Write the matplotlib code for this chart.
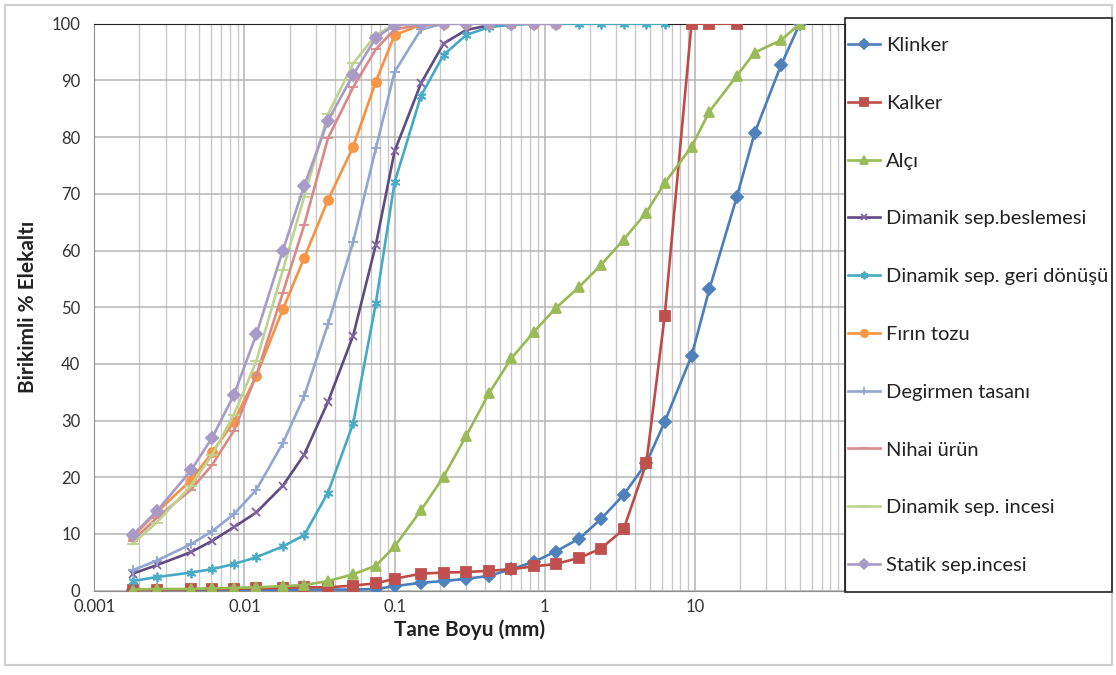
import matplotlib
matplotlib.use("Agg")
import matplotlib.pyplot as plt
from matplotlib.patches import Rectangle
from matplotlib.ticker import FixedLocator, LogLocator, NullFormatter

plt.rcParams['font.family'] = ['Lato', 'DejaVu Sans']

# elek / tane boyutlari (mm)
boyut = [0.0018, 0.0026, 0.0044, 0.0061, 0.0085, 0.012, 0.018, 0.025, 0.036, 0.053,
         0.075, 0.1, 0.15, 0.212, 0.3, 0.425, 0.6, 0.85, 1.18, 1.7,
         2.36, 3.35, 4.75, 6.3, 9.5, 12.5, 19, 25, 37.5, 50]

klinker = [0.1, 0.1, 0.1, 0.1, 0.1, 0.15, 0.15, 0.2, 0.2, 0.2,
           0.3, 0.8, 1.4, 1.7, 2.1, 2.6, 3.8, 5.1, 6.9, 9.2,
           12.6, 16.9, 22.5, 29.8, 41.4, 53.2, 69.4, 80.7, 92.7, 100]
kalker = [0.2, 0.2, 0.25, 0.3, 0.35, 0.4, 0.5, 0.6, 0.6, 0.9,
          1.3, 2.1, 3.0, 3.2, 3.3, 3.5, 3.8, 4.3, 4.7, 5.8,
          7.4, 10.8, 22.5, 48.5, 100, 100, 100]
alci = [0.2, 0.3, 0.3, 0.4, 0.5, 0.6, 0.8, 1.0, 1.7, 2.9,
        4.4, 7.8, 14.2, 20.1, 27.3, 34.8, 41.0, 45.7, 49.8, 53.6,
        57.4, 61.9, 66.7, 71.9, 78.3, 84.5, 90.8, 94.9, 97.1, 100]
dim_besleme = [3.0, 4.5, 6.8, 8.8, 11.2, 13.8, 18.5, 24.0, 33.3, 45.0,
               61.0, 77.5, 89.5, 96.5, 98.9, 99.7, 100, 100, 100]
din_geri = [1.7, 2.4, 3.2, 3.8, 4.7, 5.9, 7.8, 9.8, 17.3, 29.5,
            50.7, 72.0, 87.3, 94.5, 98.0, 99.4, 99.8, 100, 100, 100,
            100, 100, 100, 100]
firin = [9.5, 13.8, 19.5, 24.4, 29.8, 37.9, 49.6, 58.7, 68.9, 78.3,
         89.8, 98.0, 99.8, 100, 100, 100, 100, 100, 100]
degirmen = [3.6, 5.3, 8.2, 10.5, 13.5, 17.8, 26.0, 34.3, 47.0, 61.5,
            78.0, 91.5, 99.0, 100, 100, 100, 100, 100, 100]
nihai = [8.8, 12.8, 17.8, 22.2, 28.2, 38.0, 52.5, 64.5, 79.8, 88.8,
         95.5, 99.0, 99.8, 100, 100, 100, 100, 100, 100]
din_ince = [8.3, 12.0, 18.5, 24.0, 31.0, 40.5, 56.5, 69.5, 84.0, 93.0,
            98.0, 99.8, 100, 100, 100, 100, 100, 100, 100]
statik = [9.8, 14.0, 21.2, 27.0, 34.5, 45.2, 60.0, 71.4, 82.9, 91.0,
          97.5, 99.8, 100, 100, 100, 100, 100, 100, 100]

seriler = [
    ("Klinker", klinker, '#4A7EBB', 'D', 6, '#4F81BD'),
    ("Kalker", kalker, '#BE4B48', 's', 6.5, '#C0504D'),
    ("Alçı", alci, '#98B954', '^', 6.5, '#9BBB59'),
    ("Dimanik sep.beslemesi", dim_besleme, '#5F4B82', 'x', 6, '#8064A2'),
    ("Dinamik sep. geri dönüşü", din_geri, '#46AAC5', (6, 2, 0), 7, '#4BACC6'),
    ("Fırın tozu", firin, '#F69240', 'o', 6.5, '#F79646'),
    ("Degirmen tasanı", degirmen, '#91A6D0', '+', 7, '#91A6D0'),
    ("Nihai ürün", nihai, '#D98A88', '_', 7, '#D98A88'),
    ("Dinamik sep. incesi", din_ince, '#BCD48E', '_', 9, '#BCD48E'),
    ("Statik sep.incesi", statik, '#A99BC8', 'D', 6, '#A99BC8'),
]

fig = plt.figure(figsize=(11.16, 6.75), dpi=100)
ax = fig.add_axes([94.3 / 1116, 1 - 590.7 / 675, (845 - 94.3) / 1116, 567 / 675])

for ad, deger, renk, isaret, boy, dolgu in seriler:
    ax.plot(boyut[:len(deger)], deger, color=renk, lw=1.9, marker=isaret,
            ms=boy, mfc=dolgu, mec=dolgu, mew=1.3, label=ad, zorder=3)

ax.set_xscale('log')
ax.set_xlim(0.001, 100)
ax.set_ylim(0, 100)
ax.set_yticks(range(0, 101, 10))
ax.xaxis.set_major_locator(FixedLocator([0.001, 0.01, 0.1, 1, 10, 100]))
ax.set_xticklabels(['0.001', '0.01', '0.1', '1', '10', ''])
ax.xaxis.set_minor_locator(LogLocator(base=10, subs=range(2, 10)))
ax.xaxis.set_minor_formatter(NullFormatter())

ax.grid(True, which='major', axis='both', color='#B4B4B4', lw=1.1)
ax.grid(True, which='minor', axis='x', color='#C8C8C8', lw=1.0)
ax.set_axisbelow(True)
ax.tick_params(axis='both', which='both', length=0, labelsize=12, colors='#333333')
ax.tick_params(axis='y', pad=10)
ax.tick_params(axis='x', pad=6)

for s in ['left', 'bottom']:
    ax.spines[s].set_color('#8C8C8C')
for s in ['top', 'right']:
    ax.spines[s].set_color('#222222')

ax.set_xlabel('Tane Boyu (mm)', fontsize=15, fontweight='bold', color='#222222', labelpad=3)
ax.set_ylabel('Birikimli % Elekaltı', fontsize=15, fontweight='bold', color='#222222', labelpad=10)

# sag taraftaki aciklama kutusu
fig.patches.append(Rectangle((845 / 1116, 1 - 592 / 675), 267 / 1116, 574 / 675,
                             transform=fig.transFigure, fill=False,
                             edgecolor='#222222', lw=1.2, zorder=5))
leg = fig.legend(loc='upper left', bbox_to_anchor=(848 / 1116, 1 - 37 / 675),
                 fontsize=14.5, frameon=False, labelspacing=2.02, handlelength=1.6,
                 handletextpad=0.3, borderpad=0, borderaxespad=0, markerscale=0.8)
for t in leg.get_texts():
    t.set_color('#222222')

# grafik alaninin dis cercevesi
fig.patches.append(Rectangle((5 / 1116, 10 / 675), 1107 / 1116, 660 / 675,
                             transform=fig.transFigure, fill=False,
                             edgecolor='#CFCFCF', lw=1.5))

fig.savefig('out.png', dpi=100)
